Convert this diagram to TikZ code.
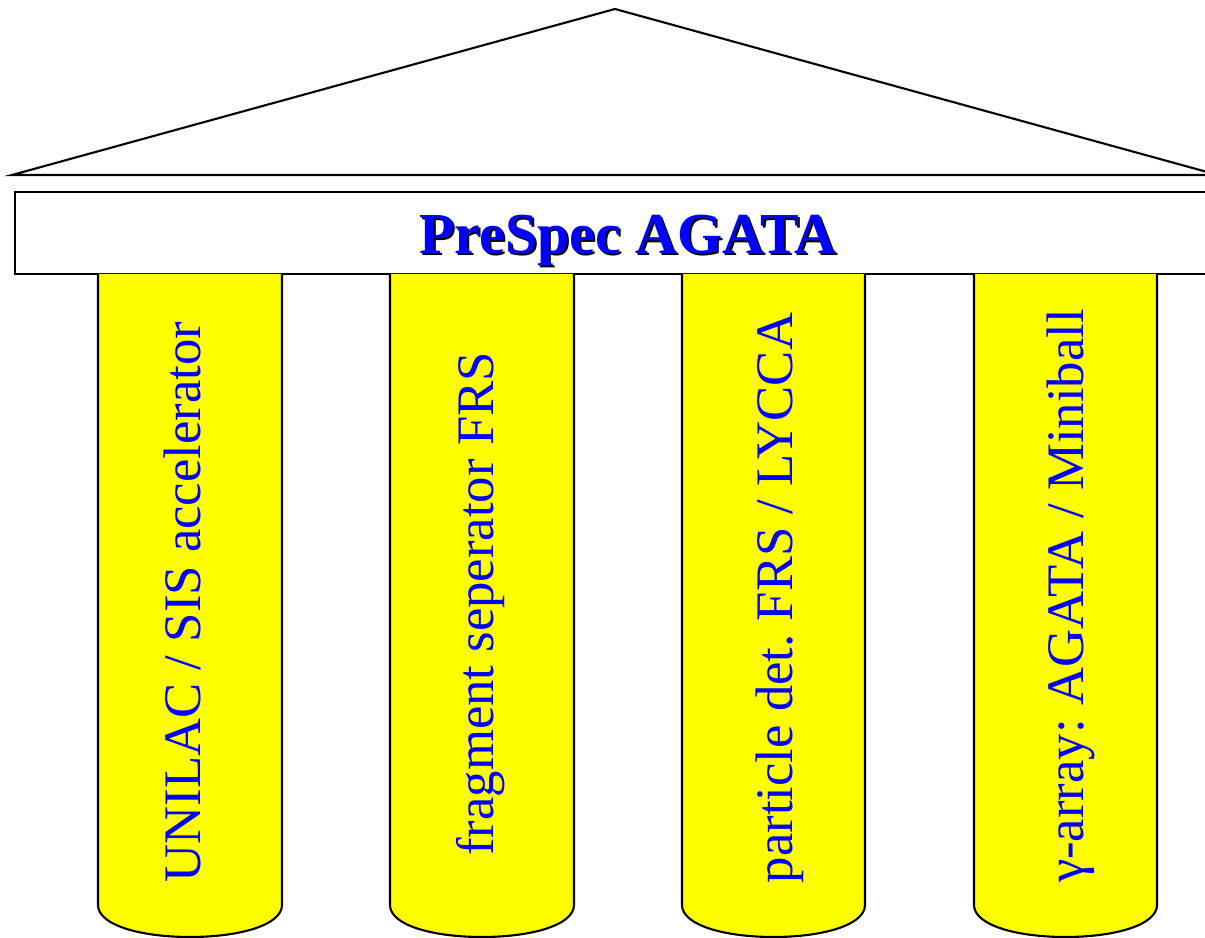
\documentclass[tikz,border=0pt]{standalone}
\usepackage{fontspec}
\setmainfont{Liberation Serif}
\definecolor{pilyellow}{RGB}{255,255,0}
\definecolor{txtblue}{RGB}{0,0,255}
\tikzset{
  pillar/.style={draw,fill=pilyellow,line width=0.6pt},
  beam/.style={draw,fill=white,line width=0.6pt},
  lbl/.style={rotate=90,anchor=base,inner sep=0pt,text=txtblue,font=\fontsize{15}{18}\selectfont\frenchspacing},
  ttl/.style={inner sep=0pt,font=\fontsize{16.5}{20}\selectfont\bfseries},
  every picture/.style={line width=0.6pt},
}
\begin{document}
\begin{tikzpicture}[x=0.1mm,y=-0.1mm]
\useasboundingbox (0,0) rectangle (1205,938);
% roof and beam
\draw (12,175) -- (615,9) -- (1218,175) -- cycle;
\draw[beam] (15,192) rectangle (1215,274);
\node[ttl,text=black] (ttlsh) at (630,242){PreSpec AGATA};
\node[ttl,text=txtblue] (ttl) at (628,240){PreSpec AGATA};
% pillars
\draw[pillar] (98,274) -- (98,905) .. controls (98,925) and (140,937) .. (190,937) .. controls (240,937) and (282,925) .. (282,905) -- (282,274);
\draw[pillar] (390,274) -- (390,905) .. controls (390,925) and (432,937) .. (482,937) .. controls (532,937) and (574,925) .. (574,905) -- (574,274);
\draw[pillar] (682,274) -- (682,905) .. controls (682,925) and (724,937) .. (773.5,937) .. controls (823,937) and (865,925) .. (865,905) -- (865,274);
\draw[pillar] (974,274) -- (974,905) .. controls (974,925) and (1016,937) .. (1065.5,937) .. controls (1115,937) and (1157,925) .. (1157,905) -- (1157,274);
\node[lbl] (unilac) at (200,602){UNILAC / SIS accelerator};
\node[lbl] (frs) at (493,604){fragment seperator FRS};
\node[lbl] (lycca) at (792,598){particle det.\ FRS / LYCCA};
\node[lbl] (gamma) at (1083,596){γ-array: AGATA / Miniball};
\end{tikzpicture}
\end{document}
